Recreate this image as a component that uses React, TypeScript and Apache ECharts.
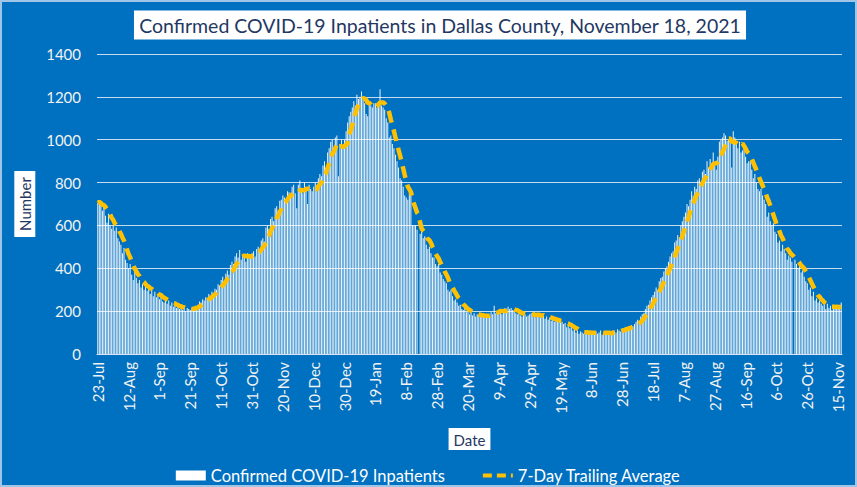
import React, { useEffect, useRef } from "react";
import * as echarts from "echarts";

// Daily confirmed COVID-19 inpatients, starting 23-Jul-2020 (one value per day)
const START_DATE = Date.UTC(2020, 6, 23);
const MONTHS = ["Jan", "Feb", "Mar", "Apr", "May", "Jun", "Jul", "Aug", "Sep", "Oct", "Nov", "Dec"];

const DAILY: (number | null)[] = [
  705, 712, 698, 668, 690, 645, 612, 655, 598, 585,
  600, 575, 590, 540, 525, 510, 470, 495, 440, 425,
  400, 420, 370, 345, 385, 355, 330, 345, 310, 325,
  300, 320, 295, 310, 280, 300, 270, 290, 265, 275,
  255, 270, 245, 240, 255, 235, 250, 225, 240, 220,
  230, 215, 225, 210, 220, 205, 218, 200, 215, 210,
  205, 215, 212, 225, 220, 230, 245, 240, 255, 250,
  265, 260, 280, 270, 290, 285, 305, 300, 325, 320,
  345, 360, 340, 375, 390, 370, 415, 430, 420, 455,
  470, 450, 485, 440, 465, 455, 430, 470, 460, 450,
  470, 480, 455, 490, 500, 485, 530, 540, 525, 590,
  600, 585, 630, 640, 620, 680, 690, 670, 715, 720,
  740, 730, 710, 760, 755, 740, 780, 790, 750, 680,
  790, 810, 770, 750, 800, 780, 700, 790, 770, 760,
  780, 800, 770, 820, 840, 830, 880, 900, 870, 940,
  960, 990, 1000, 950, 1010, 1020, 830, 980, 1000, 960,
  1000, 1040, 1080, 1110, 1130, 1150, 1180, 1160, 1210, 1190,
  1200, 1225, 1190, 1170, 1120, 1110, 1180, 1160, 1150, 1170,
  1170, 1150, 1180, 1235, 1160, 1150, 1140, 1100, 1080, 1010,
  1020, 980, 960, 930, 900, 870, 820, 810, 780, 740,
  730, 720, 780, 740, 600, 600, 600, 580, null, 560,
  570, 540, 550, 510, 490, 500, 470, 450, 450, 420,
  410, 420, 380, 370, 350, 340, 330, 300, 290, 300,
  270, 250, 255, 240, 225, 230, 210, 205, 215, 195,
  200, 185, 195, 180, 190, 175, 185, 180, 175, 185,
  175, 170, 185, 180, 175, 195, 185, 225, 190, 200,
  205, 210, 185, 195, 215, 195, 220, 210, 215, 205,
  200, 190, 185, 195, 180, 175, 200, 185, 175, 180,
  185, 190, 175, 195, 170, 185, 180, 170, 185, 180,
  165, 175, 160, 170, 155, 170, 150, 160, 155, 150,
  145, 150, 140, 145, 125, 140, 120, 130, 110, 115,
  100, 110, 95, 105, 100, 95, 110, 100, 90, 105,
  95, 100, 90, 105, 95, 100, 110, 90, 95, 100,
  100, 95, 105, 90, 110, 105, 100, 115, 110, 105,
  120, 115, 125, 120, 130, 125, 135, 130, 140, 150,
  160, 155, 175, 185, 190, 210, 225, 230, 250, 265,
  275, 290, 310, 300, 340, 355, 360, 385, 400, 410,
  430, 455, 470, 480, 520, 530, 555, 545, 600, 620,
  640, 660, 700, 690, 720, 760, 740, 780, 770, 810,
  820, 800, 850, 860, 840, 900, 870, 910, 880, 940,
  880, 860, 920, 990, 1000, 1010, 1030, 1020, 995, 1000,
  990, 870, 1040, 1010, 990, 960, 990, 940, 950, 960,
  920, 890, 900, 900, 860, 820, 840, 800, 770, 760,
  770, 740, 720, 700, 640, 660, 620, 600, 610, 570,
  560, 520, 530, 480, 510, 490, 470, 440, 460, 450,
  430, null, 440, 420, 400, 410, 380, 390, 360, 340,
  330, 300, 310, 270, 290, 250, 260, 240, 250, 235,
  225, 230, 210, 235, 215, 225, 205, 230, 215, 225,
  220, 210, 240,
];

const SERIES_NAMES = ["Confirmed COVID-19 Inpatients", "7-Day Trailing Average"];
const Y_MIN = 0;
const Y_MAX = 1400;
const Y_STEP = 200;
const LABEL_EVERY = 20;

const CATEGORIES = DAILY.map((_, i) => {
  const d = new Date(START_DATE + i * 86400000);
  return `${d.getUTCDate()}-${MONTHS[d.getUTCMonth()]}`;
});

// 7-day trailing average of the daily values (skipping unreported days)
const TRAILING_AVG = DAILY.map((_, i) => {
  const win = DAILY.slice(Math.max(0, i - 6), i + 1).filter((v): v is number => v !== null);
  return win.length ? Math.round(win.reduce((a, b) => a + b, 0) / win.length) : null;
});

const FONT = "Lato, 'Open Sans', sans-serif";
const LINE_STYLE = { color: "#FFC000", width: 4.5, type: [12, 7], cap: "butt" };

export default function App() {
  const ref = useRef<HTMLDivElement>(null);
  useEffect(() => {
    const chart = echarts.init(ref.current!, null, { renderer: "svg" });
    chart.setOption({
      animation: false,
      backgroundColor: "#0070C0",
      textStyle: { fontFamily: FONT },
      grid: { left: 97, right: 15, top: 54, bottom: 133 },
      graphic: [
        {
          type: "rect",
          shape: { x: 1, y: 1, width: 855, height: 485 },
          style: { fill: "none", stroke: "rgba(200,220,240,0.8)", lineWidth: 2 },
          silent: true,
        },
        {
          type: "text",
          x: 440,
          y: 25,
          style: {
            text: "Confirmed COVID-19 Inpatients in Dallas County, November 18, 2021",
            fill: "#1F3864",
            font: `19.5px ${FONT}`,
            align: "center",
            verticalAlign: "middle",
            backgroundColor: "#ffffff",
            padding: [5, 5, 4, 5],
          },
        },
      ],
      legend: {
        top: 462,
        left: "center",
        itemWidth: 30,
        itemHeight: 10,
        itemGap: 36,
        textStyle: { color: "#ffffff", fontSize: 16.5, fontFamily: FONT },
        data: [
          { name: SERIES_NAMES[0], icon: "rect", itemStyle: { color: "#ffffff", opacity: 1 } },
          {
            name: SERIES_NAMES[1],
            itemStyle: { opacity: 0 },
            lineStyle: { color: "#FFC000", width: 4, type: [9, 5] },
          },
        ],
      },
      xAxis: {
        type: "category",
        data: CATEGORIES,
        boundaryGap: true,
        name: "Date",
        nameLocation: "middle",
        nameGap: 74,
        nameTextStyle: {
          color: "#1F3864",
          fontSize: 15,
          fontFamily: FONT,
          backgroundColor: "#ffffff",
          padding: [4, 5, 3, 5],
        },
        axisLine: { lineStyle: { color: "#d9e4f0", width: 1 } },
        axisTick: {
          interval: LABEL_EVERY - 1,
          alignWithLabel: true,
          length: 5,
          lineStyle: { color: "#d9e4f0" },
        },
        axisLabel: {
          interval: LABEL_EVERY - 1,
          rotate: 90,
          color: "#f2f2f2",
          fontSize: 15,
          fontFamily: FONT,
          margin: 8,
        },
      },
      yAxis: {
        type: "value",
        min: Y_MIN,
        max: Y_MAX,
        interval: Y_STEP,
        name: "Number",
        nameLocation: "middle",
        nameRotate: 90,
        nameGap: 61,
        nameTextStyle: {
          color: "#1F3864",
          fontSize: 15,
          fontFamily: FONT,
          backgroundColor: "#ffffff",
          padding: [3, 6, 3, 6],
        },
        axisLine: { show: false },
        axisTick: { show: false },
        axisLabel: {
          color: "#f2f2f2",
          fontSize: 15,
          fontFamily: FONT,
          margin: 16,
          formatter: (v: number) => String(v),
        },
        splitLine: { lineStyle: { color: "rgba(230,238,248,0.85)", width: 1 } },
      },
      series: [
        {
          name: SERIES_NAMES[0],
          type: "bar",
          data: DAILY,
          barWidth: "65%",
          itemStyle: { color: "#ffffff", opacity: 0.92 },
          z: 2,
        },
        {
          name: SERIES_NAMES[1],
          type: "line",
          data: TRAILING_AVG,
          showSymbol: false,
          symbol: "none",
          smooth: false,
          connectNulls: true,
          lineStyle: LINE_STYLE,
          itemStyle: { color: "#FFC000" },
          z: 3,
        },
      ],
    });
    return () => chart.dispose();
  }, []);
  return (
    <div
      ref={ref}
      style={{ position: "absolute", left: 0, top: 0, width: 857, height: 487 }}
    />
  );
}
